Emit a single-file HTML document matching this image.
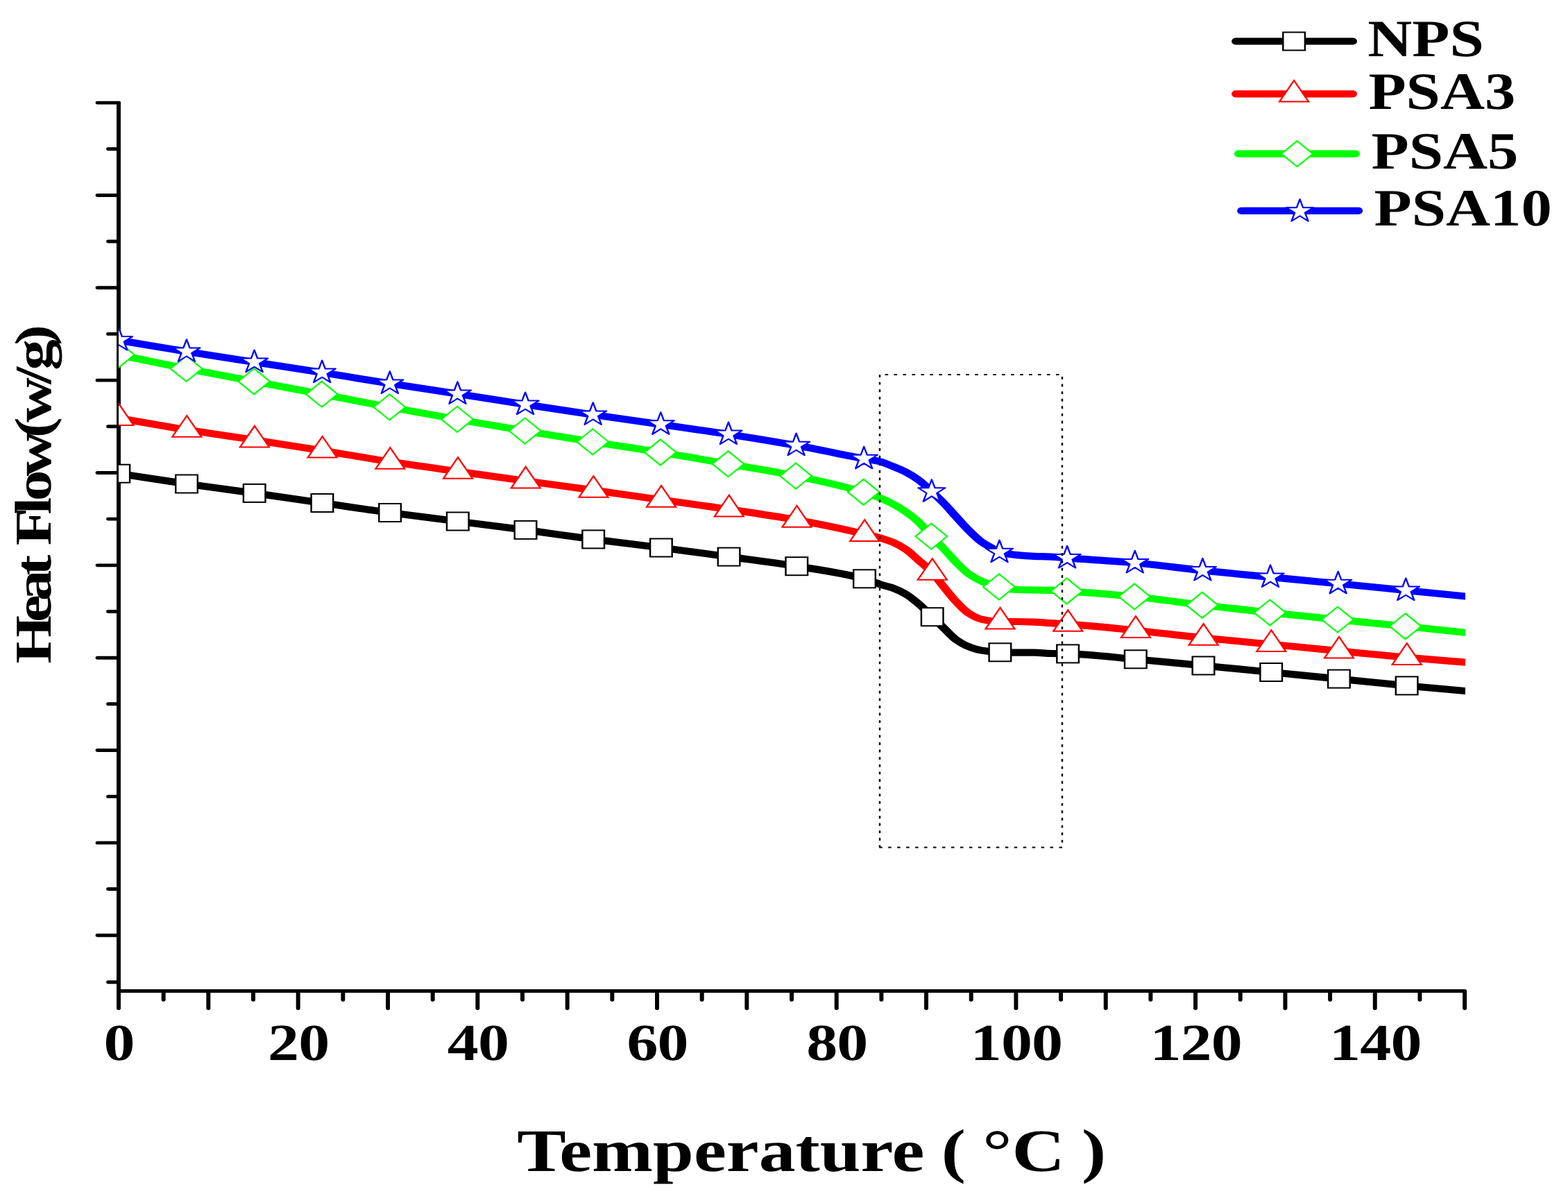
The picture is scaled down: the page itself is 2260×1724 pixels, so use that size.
<!DOCTYPE html>
<html lang="en"><head><meta charset="utf-8"><title>Heat Flow vs Temperature</title>
<style>html,body{margin:0;padding:0;background:#fff;overflow:hidden}svg{display:block}text{font-family:"Liberation Serif", "DejaVu Serif", serif;font-weight:bold;fill:#000;text-rendering:geometricPrecision}</style></head><body>
<svg width="2260" height="1724" viewBox="0 0 2260 1724" role="img" aria-label="DSC heat flow versus temperature for NPS, PSA3, PSA5 and PSA10">
<rect width="2260" height="1724" fill="#fff"/>
<defs>
<clipPath id="plot"><rect x="140.74" y="100" width="1597.53" height="1328"/></clipPath>
<g id="m-black" fill="#fff" stroke="#000" stroke-width="2.0" stroke-linejoin="miter"><rect x="-13.0" y="-13.0" width="26.0" height="26.0"/></g>
<g id="m-red" fill="#fff" stroke="#f00" stroke-width="2.0" stroke-linejoin="miter"><path d="M0 -20.4L17.28 10.2L-17.28 10.2Z"/></g>
<g id="m-green" fill="#fff" stroke="#0f0" stroke-width="2.0" stroke-linejoin="miter"><path d="M0 -18.5L18.77 0L0 18.5L-18.77 0Z"/></g>
<g id="m-blue" fill="#fff" stroke="#00f" stroke-width="2.0" stroke-linejoin="round"><path d="M0 -17.5L3.79 -5.41L16.04 -5.41L6.13 2.07L9.92 14.16L0 6.69L-9.92 14.16L-6.13 2.07L-16.04 -5.41L-3.79 -5.41Z"/></g>
</defs>
<g transform="scale(1.215,1)">
<g fill="none" stroke="#000" stroke-width="4.9" stroke-linecap="round">
<path d="M140.74 148.1V1453.5"/>
<path d="M140.74 1428.5H1737.53" stroke-linecap="butt"/>
<path d="M140.74 148.1H115.72M140.74 214.7H128.48M140.74 281.45H115.72M140.74 348.05H128.48M140.74 414.8H115.72M140.74 481.4H128.48M140.74 548.15H115.72M140.74 614.75H128.48M140.74 681.5H115.72M140.74 748.1H128.48M140.74 814.85H115.72M140.74 881.45H128.48M140.74 948.2H115.72M140.74 1014.8H128.48M140.74 1081.55H115.72M140.74 1148.15H128.48M140.74 1214.9H115.72M140.74 1281.5H128.48M140.74 1348.25H115.72M140.74 1415.7H128.48"/>
<path d="M193.97 1428.5V1441.3M247.19 1428.5V1453.5M300.42 1428.5V1441.3M353.65 1428.5V1453.5M406.87 1428.5V1441.3M460.1 1428.5V1453.5M513.33 1428.5V1441.3M566.55 1428.5V1453.5M619.78 1428.5V1441.3M673 1428.5V1453.5M726.23 1428.5V1441.3M779.46 1428.5V1453.5M832.68 1428.5V1441.3M885.91 1428.5V1453.5M939.14 1428.5V1441.3M992.36 1428.5V1453.5M1045.59 1428.5V1441.3M1098.81 1428.5V1453.5M1152.04 1428.5V1441.3M1205.27 1428.5V1453.5M1258.49 1428.5V1441.3M1311.72 1428.5V1453.5M1364.95 1428.5V1441.3M1418.17 1428.5V1453.5M1471.4 1428.5V1441.3M1524.63 1428.5V1453.5M1577.85 1428.5V1441.3M1631.08 1428.5V1453.5M1684.3 1428.5V1441.3M1737.53 1428.5V1453.5"/>
</g>
<g clip-path="url(#plot)">
<path d="M136.05 681.79C137.7 682.09 139.34 682.4 140.99 682.7C167.79 687.63 194.6 692.81 221.4 697.5C248.2 702.19 275.01 706.32 301.81 710.9C328.61 715.48 355.42 720.32 382.22 725C409.03 729.68 435.83 734.6 462.63 739C489.44 743.4 516.24 747.35 543.05 751.5C569.85 755.65 596.65 759.59 623.46 763.9C650.26 768.21 677.06 773.15 703.87 777.4C730.67 781.65 757.48 785.31 784.28 789.5C811.08 793.69 837.89 798.15 864.69 802.6C891.5 807.05 918.3 811.02 945.1 816.2C971.91 821.38 998.71 825.78 1025.51 834.3C1031.6 836.24 1037.7 839.9 1043.79 842.25C1049 844.26 1054.21 845.44 1059.42 847.7C1064.42 849.87 1069.41 852.78 1074.4 856.3C1079.4 859.82 1084.39 864.9 1089.38 870C1094.9 875.63 1100.41 882.75 1105.93 889.2C1110.37 894.4 1114.81 899.72 1119.26 904.9C1124.25 910.72 1129.25 917.96 1134.24 922.2C1139.2 926.42 1144.17 929.87 1149.14 932.2C1154.13 934.54 1159.12 936.66 1164.12 937.6C1171.52 938.99 1178.93 940.05 1186.34 940.3C1193.06 940.53 1199.78 940.7 1206.5 940.7C1213.22 940.7 1219.95 940.7 1226.67 940.7C1233.39 940.7 1240.11 941.79 1246.83 942C1253.47 942.2 1260.11 942.2 1266.75 942.4C1293.55 943.19 1320.36 947.47 1347.16 950.3C1373.96 953.13 1400.77 956.38 1427.57 959.5C1454.38 962.62 1481.18 965.82 1507.98 969C1534.79 972.18 1561.59 975.37 1588.4 978.6C1615.2 981.83 1642 985.31 1668.81 988.4C1691.88 991.06 1714.95 993.47 1738.02 996C1741.32 996.36 1744.61 996.72 1747.9 997.08" fill="none" stroke="#000" stroke-width="10.2" stroke-linejoin="round"/>
<use href="#m-black" x="140.99" y="682.7"/>
<use href="#m-black" x="221.4" y="697.5"/>
<use href="#m-black" x="301.81" y="710.9"/>
<use href="#m-black" x="382.22" y="725"/>
<use href="#m-black" x="462.63" y="739"/>
<use href="#m-black" x="543.05" y="751.5"/>
<use href="#m-black" x="623.46" y="763.9"/>
<use href="#m-black" x="703.87" y="777.4"/>
<use href="#m-black" x="784.28" y="789.5"/>
<use href="#m-black" x="864.69" y="802.6"/>
<use href="#m-black" x="945.1" y="816.2"/>
<use href="#m-black" x="1025.51" y="834.3"/>
<use href="#m-black" x="1105.93" y="889.2"/>
<use href="#m-black" x="1186.34" y="940.3"/>
<use href="#m-black" x="1266.75" y="942.4"/>
<use href="#m-black" x="1347.16" y="950.3"/>
<use href="#m-black" x="1427.57" y="959.5"/>
<use href="#m-black" x="1507.98" y="969"/>
<use href="#m-black" x="1588.4" y="978.6"/>
<use href="#m-black" x="1668.81" y="988.4"/>
<path d="M136.3 601.87C137.94 602.22 139.59 602.56 141.23 602.9C168.04 608.47 194.84 614.39 221.64 619.6C248.44 624.81 275.24 629.33 302.04 634.3C328.84 639.27 355.64 644.19 382.44 649.4C409.25 654.61 436.05 660.59 462.85 665.6C489.65 670.61 516.45 674.98 543.25 679.6C570.05 684.22 596.85 688.8 623.65 693.3C650.46 697.8 677.26 702.07 704.06 706.6C730.86 711.13 757.66 715.9 784.46 720.5C811.26 725.1 838.06 729.38 864.86 734.2C891.67 739.02 918.47 743.69 945.27 749.5C972.07 755.31 998.87 762.26 1025.67 769.75C1031.71 771.44 1037.75 773.07 1043.79 775.2C1049 777.04 1054.21 779.1 1059.42 781.8C1064.42 784.39 1069.41 787.76 1074.4 791.8C1079.4 795.84 1084.39 801.89 1089.38 807.2C1094.95 813.12 1100.51 818.47 1106.07 825.6C1110.47 831.23 1114.86 839 1119.26 845.5C1124.25 852.88 1129.25 860.87 1134.24 867.2C1139.2 873.5 1144.17 880.22 1149.14 884C1154.13 887.8 1159.12 891.24 1164.12 892.6C1171.57 894.63 1179.02 896.4 1186.48 896.4C1193.15 896.4 1199.83 896 1206.5 896C1213.22 896 1219.95 896.31 1226.67 896.6C1233.39 896.89 1240.11 897.7 1246.83 898.2C1253.51 898.7 1260.2 899.05 1266.88 899.6C1293.68 901.81 1320.48 905.4 1347.28 908.7C1374.09 912 1400.89 916.24 1427.69 919.55C1454.49 922.86 1481.29 925.57 1508.09 928.7C1534.89 931.83 1561.69 935.18 1588.49 938.35C1615.29 941.52 1642.1 944.83 1668.9 947.7C1691.94 950.17 1714.98 952.3 1738.02 954.6C1741.32 954.93 1744.61 955.26 1747.9 955.59" fill="none" stroke="#f00" stroke-width="10.2" stroke-linejoin="round"/>
<use href="#m-red" x="141.23" y="602.9"/>
<use href="#m-red" x="221.64" y="619.6"/>
<use href="#m-red" x="302.04" y="634.3"/>
<use href="#m-red" x="382.44" y="649.4"/>
<use href="#m-red" x="462.85" y="665.6"/>
<use href="#m-red" x="543.25" y="679.6"/>
<use href="#m-red" x="623.65" y="693.3"/>
<use href="#m-red" x="704.06" y="706.6"/>
<use href="#m-red" x="784.46" y="720.5"/>
<use href="#m-red" x="864.86" y="734.2"/>
<use href="#m-red" x="945.27" y="749.5"/>
<use href="#m-red" x="1025.67" y="769.75"/>
<use href="#m-red" x="1106.07" y="825.6"/>
<use href="#m-red" x="1186.48" y="896.4"/>
<use href="#m-red" x="1266.88" y="899.6"/>
<use href="#m-red" x="1347.28" y="908.7"/>
<use href="#m-red" x="1427.69" y="919.55"/>
<use href="#m-red" x="1508.09" y="928.7"/>
<use href="#m-red" x="1588.49" y="938.35"/>
<use href="#m-red" x="1668.9" y="947.7"/>
<path d="M135.8 510.17C137.45 510.58 139.09 510.99 140.74 511.4C167.52 518.07 194.3 525.01 221.08 531.4C247.86 537.79 274.64 543.67 301.42 549.8C328.19 555.93 354.97 562.02 381.75 568.2C408.53 574.38 435.31 580.87 462.09 586.9C488.87 592.93 515.65 598.7 542.43 604.4C569.21 610.1 595.99 615.69 622.77 621.1C649.54 626.51 676.32 631.75 703.1 636.9C729.88 642.05 756.66 646.71 783.44 652C810.22 657.29 837 663.02 863.78 668.7C890.56 674.38 917.34 679.47 944.12 686.1C970.89 692.73 997.67 699.61 1024.45 709.3C1030.9 711.63 1037.34 714.53 1043.79 717.7C1049 720.27 1054.21 723.15 1059.42 726.5C1064.42 729.71 1069.41 733.51 1074.4 737.7C1079.4 741.89 1084.39 746.39 1089.38 752C1094.52 757.77 1099.65 766.51 1104.79 773.1C1109.61 779.29 1114.44 784.51 1119.26 790.6C1124.25 796.91 1129.25 804.32 1134.24 810.4C1139.2 816.44 1144.17 822.93 1149.14 827.2C1154.13 831.49 1159.12 835.05 1164.12 837.6C1171.12 841.18 1178.12 844.09 1185.13 845.9C1192.25 847.74 1199.38 849.69 1206.5 850C1213.22 850.29 1219.95 850.38 1226.67 850.5C1233.39 850.62 1240.11 850.63 1246.83 850.8C1253.04 850.95 1259.25 851.57 1265.47 852.05C1292.24 854.11 1319.02 856.74 1345.8 859.95C1372.58 863.16 1399.36 868.42 1426.14 872.25C1452.92 876.08 1479.7 879.58 1506.48 883.05C1533.26 886.52 1560.04 889.81 1586.81 893.1C1613.59 896.39 1640.37 899.48 1667.15 902.8C1690.78 905.73 1714.4 908.8 1738.02 911.8C1741.32 912.22 1744.61 912.64 1747.9 913.05" fill="none" stroke="#0f0" stroke-width="10.2" stroke-linejoin="round"/>
<use href="#m-green" x="140.74" y="511.4"/>
<use href="#m-green" x="221.08" y="531.4"/>
<use href="#m-green" x="301.42" y="549.8"/>
<use href="#m-green" x="381.75" y="568.2"/>
<use href="#m-green" x="462.09" y="586.9"/>
<use href="#m-green" x="542.43" y="604.4"/>
<use href="#m-green" x="622.77" y="621.1"/>
<use href="#m-green" x="703.1" y="636.9"/>
<use href="#m-green" x="783.44" y="652"/>
<use href="#m-green" x="863.78" y="668.7"/>
<use href="#m-green" x="944.12" y="686.1"/>
<use href="#m-green" x="1024.45" y="709.3"/>
<use href="#m-green" x="1104.79" y="773.1"/>
<use href="#m-green" x="1185.13" y="845.9"/>
<use href="#m-green" x="1265.47" y="852.05"/>
<use href="#m-green" x="1345.8" y="859.95"/>
<use href="#m-green" x="1426.14" y="872.25"/>
<use href="#m-green" x="1506.48" y="883.05"/>
<use href="#m-green" x="1586.81" y="893.1"/>
<use href="#m-green" x="1667.15" y="902.8"/>
<path d="M136.05 489.5C137.7 489.83 139.34 490.17 140.99 490.5C167.77 495.93 194.56 501.56 221.34 506.8C248.13 512.04 274.91 516.97 301.7 522C328.48 527.03 355.26 531.87 382.05 537C408.83 542.13 435.62 547.67 462.4 552.8C489.19 557.93 515.97 562.77 542.76 567.8C569.54 572.83 596.33 578 623.11 583C649.9 588 676.68 593.02 703.47 597.8C730.25 602.58 757.03 607 783.82 611.7C810.6 616.4 837.39 620.95 864.17 626C890.96 631.05 917.74 636.28 944.53 642.1C971.31 647.92 998.1 655.09 1024.88 661.2C1031.18 662.64 1037.48 663.51 1043.79 665.4C1049 666.96 1054.21 669.86 1059.42 672.4C1064.42 674.83 1069.41 677.3 1074.4 680.4C1079.4 683.5 1084.39 687.11 1089.38 691.5C1094.67 696.14 1099.95 702.78 1105.23 708.7C1109.91 713.93 1114.58 719.11 1119.26 724.9C1124.25 731.08 1129.25 738.3 1134.24 744.9C1139.2 751.46 1144.17 758.48 1149.14 764.4C1154.13 770.35 1159.12 776.46 1164.12 780.8C1167.85 784.04 1171.58 786.35 1175.31 789C1178.74 791.44 1182.16 795 1185.59 796.1C1192.56 798.33 1199.53 799.29 1206.5 800.1C1213.22 800.88 1219.95 801.44 1226.67 801.8C1233.39 802.16 1240.11 802.22 1246.83 802.6C1253.2 802.96 1259.57 803.82 1265.94 804.4C1292.73 806.83 1319.51 808.46 1346.3 811.3C1373.08 814.14 1399.87 818.99 1426.65 822.4C1453.43 825.81 1480.22 828.77 1507 831.9C1533.79 835.03 1560.57 838.02 1587.36 841.2C1614.14 844.38 1640.93 847.75 1667.71 851C1691.15 853.85 1714.59 856.67 1738.02 859.5C1741.32 859.9 1744.61 860.3 1747.9 860.69" fill="none" stroke="#00f" stroke-width="10.2" stroke-linejoin="round"/>
<use href="#m-blue" x="140.99" y="490.5"/>
<use href="#m-blue" x="221.34" y="506.8"/>
<use href="#m-blue" x="301.7" y="522"/>
<use href="#m-blue" x="382.05" y="537"/>
<use href="#m-blue" x="462.4" y="552.8"/>
<use href="#m-blue" x="542.76" y="567.8"/>
<use href="#m-blue" x="623.11" y="583"/>
<use href="#m-blue" x="703.47" y="597.8"/>
<use href="#m-blue" x="783.82" y="611.7"/>
<use href="#m-blue" x="864.17" y="626"/>
<use href="#m-blue" x="944.53" y="642.1"/>
<use href="#m-blue" x="1024.88" y="661.2"/>
<use href="#m-blue" x="1105.23" y="708.7"/>
<use href="#m-blue" x="1185.59" y="796.1"/>
<use href="#m-blue" x="1265.94" y="804.4"/>
<use href="#m-blue" x="1346.3" y="811.3"/>
<use href="#m-blue" x="1426.65" y="822.4"/>
<use href="#m-blue" x="1507" y="831.9"/>
<use href="#m-blue" x="1587.36" y="841.2"/>
<use href="#m-blue" x="1667.71" y="851"/>
</g>
<g fill="none" stroke="#000" stroke-width="2">
<path stroke-dasharray="3.9 6.698" d="M1043.62 540.1V1221.5M1260.08 1214.55V540.1"/>
<path stroke-dasharray="3.75 6.922" d="M1049.88 540.1H1260.08M1260.16 1221.5H1042.8"/>
</g>
<path d="M1466.09 59.5H1604.77" stroke="#000" stroke-width="10.2" stroke-linecap="round"/>
<use href="#m-black" x="1535.06" y="59.5"/>
<path d="M1466.09 135.3H1604.77" stroke="#f00" stroke-width="10.2" stroke-linecap="round"/>
<use href="#m-red" x="1535.06" y="136.4"/>
<path d="M1469.3 221.7H1608.15" stroke="#0f0" stroke-width="10.2" stroke-linecap="round"/>
<use href="#m-green" x="1538.77" y="221.7"/>
<path d="M1472.67 303.8H1611.52" stroke="#00f" stroke-width="10.2" stroke-linecap="round"/>
<use href="#m-blue" x="1541.98" y="304.6"/>
</g>
<text transform="translate(149.5 1528) scale(1.2 1)" font-size="75" text-anchor="start">0</text>
<text transform="translate(386.1 1528) scale(1.2 1)" font-size="75" text-anchor="start" letter-spacing="-0.7">20</text>
<text transform="translate(644.78 1528) scale(1.2 1)" font-size="75" text-anchor="start" letter-spacing="-0.7">40</text>
<text transform="translate(903.46 1528) scale(1.2 1)" font-size="75" text-anchor="start" letter-spacing="-0.7">60</text>
<text transform="translate(1162.14 1528) scale(1.2 1)" font-size="75" text-anchor="start" letter-spacing="-0.7">80</text>
<text transform="translate(1398.74 1528) scale(1.2 1)" font-size="75" text-anchor="start" letter-spacing="-0.7">100</text>
<text transform="translate(1657.42 1528) scale(1.2 1)" font-size="75" text-anchor="start" letter-spacing="-0.7">120</text>
<text transform="translate(1916.1 1528) scale(1.2 1)" font-size="75" text-anchor="start" letter-spacing="-0.7">140</text>
<text transform="translate(745.35 1688.1) scale(1.215 1)" font-size="87" text-anchor="start" word-spacing="-1.8">Temperature ( °C )</text>
<text transform="translate(1971.3 80.9) scale(1.173 1)" font-size="75.6" text-anchor="start">NPS</text>
<text transform="translate(1972.4 157.4) scale(1.173 1)" font-size="75.6" text-anchor="start">PSA3</text>
<text transform="translate(1976.5 243.2) scale(1.173 1)" font-size="75.6" text-anchor="start">PSA5</text>
<text transform="translate(1980.6 325.4) scale(1.173 1)" font-size="75.6" text-anchor="start">PSA10</text>
<text transform="translate(73.3 957) rotate(-90) scale(1.2 1)" font-size="74.5" x="0.5 50 75.7 106.2 126.9 142.3 179.6 195.6 225.6 271.4 290.2 336.2 352.8 382.8" y="0">Heat Flow(w/g)</text>
</svg></body></html>
